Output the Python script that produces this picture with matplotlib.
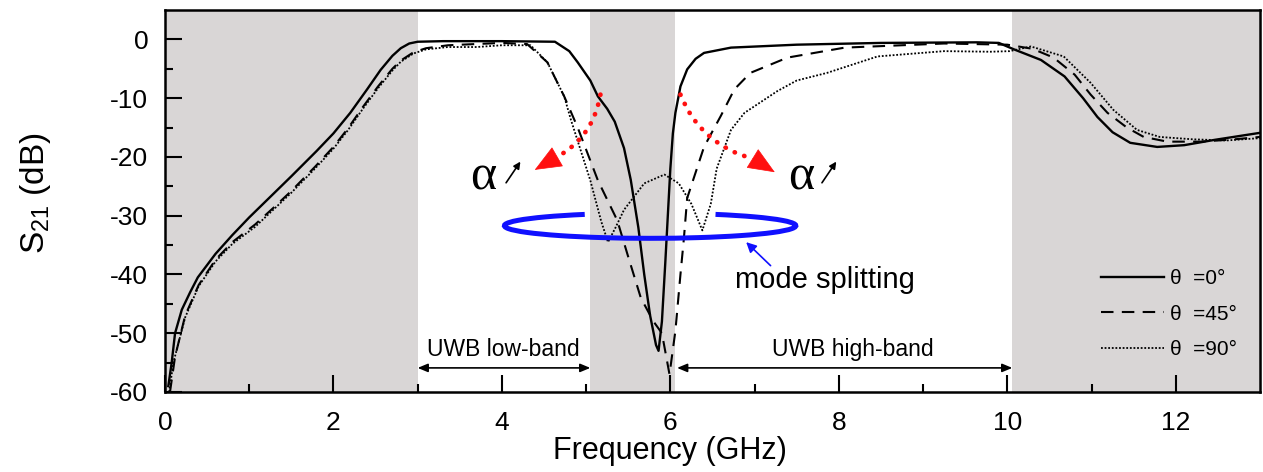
import matplotlib
matplotlib.use("Agg")
import matplotlib.pyplot as plt
from matplotlib.patches import Arc

plt.rcParams['font.family'] = ['Liberation Sans', 'DejaVu Sans']
plt.rcParams['axes.unicode_minus'] = False

# -----------------------------
# Data
# -----------------------------
# theta = 0 deg (solid)
f0 = [0.04, 0.08, 0.12, 0.2, 0.3, 0.39, 0.6, 0.8, 1.0, 1.2, 1.5, 1.8, 2.0, 2.2, 2.4,
      2.56, 2.7, 2.8, 2.9, 3.0, 3.3, 4.0, 4.63, 4.8, 4.9, 5.05, 5.14, 5.25, 5.34, 5.45,
      5.53, 5.62, 5.69, 5.76, 5.83, 5.86, 5.9, 5.94, 5.97, 6.0, 6.03, 6.06, 6.12, 6.2,
      6.3, 6.4, 6.72, 7.5, 8.5, 9.64, 9.9, 10.08, 10.4, 10.68, 10.9, 11.07, 11.25, 11.46,
      11.78, 12.1, 12.46, 13.0]
s0 = [-59, -55, -50, -46, -43, -40.5, -36.5, -33.3, -30.3, -27.5, -23.3, -19, -16, -12.5,
      -8.5, -5.2, -2.8, -1.5, -0.7, -0.4, -0.3, -0.3, -0.4, -2, -3.9, -7, -9.7, -11.8,
      -14, -18.5, -23.9, -32, -40, -47, -52, -53, -48, -38, -30, -22, -16, -12.5, -8,
      -5.1, -3.3, -2.3, -1.4, -0.9, -0.6, -0.5, -0.6, -1.7, -3.5, -6.3, -10, -13.2,
      -15.8, -17.6, -18.3, -18.0, -17.1, -15.9]

# theta = 45 deg (dashed)
f45 = [0.06, 0.12, 0.24, 0.4, 0.6, 0.8, 1.07, 1.3, 1.5, 1.78, 2.0, 2.17, 2.35, 2.53, 2.7,
       2.8, 2.95, 3.1, 3.36, 4.0, 4.3, 4.54, 4.74, 4.9, 5.14, 5.37, 5.5, 5.65, 5.8, 5.9,
       5.99, 6.06, 6.12, 6.16, 6.2, 6.4, 6.6, 6.76, 6.95, 7.39, 8.07, 9.25, 10.0, 10.3,
       10.55, 10.8, 10.99, 11.19, 11.42, 11.62, 11.9, 12.3, 12.7, 13.0]
s45 = [-60, -54, -47, -41.8, -37.5, -34.5, -31.5, -28.5, -25.8, -21.7, -18.3, -15.2,
       -11.5, -8, -5, -3.6, -2.2, -1.5, -1.0, -0.6, -0.8, -3.9, -9.7, -15, -24, -30.8,
       -37, -44, -48, -50, -57, -49.6, -40, -34, -27, -18.3, -13, -8.5, -5.7, -3.1,
       -1.4, -0.7, -0.9, -1.6, -3.1, -6, -9.4, -12.5, -15, -16.6, -17.4, -17.4, -17,
       -16.6]

# theta = 90 deg (dotted)
f90 = [0.05, 0.1, 0.24, 0.4, 0.6, 0.8, 1.07, 1.3, 1.5, 1.78, 2.0, 2.17, 2.35, 2.53, 2.7,
       2.8, 2.95, 3.1, 3.36, 3.7, 4.0, 4.34, 4.54, 4.74, 4.82, 5.05, 5.18, 5.26, 5.35,
       5.45, 5.69, 5.93, 6.1, 6.25, 6.38, 6.48, 6.55, 6.72, 6.88, 7.27, 7.5, 7.86, 8.46,
       9.25, 9.8, 10.03, 10.28, 10.67, 10.99, 11.26, 11.54, 11.81, 12.2, 12.6, 13.0]
s90 = [-60, -55, -47.3, -42, -37.8, -34.8, -31.9, -28.8, -26.1, -22, -18.6, -15.5,
       -11.8, -8.3, -5.3, -3.8, -2.4, -1.7, -1.3, -1.3, -1.0, -1.0, -3.9, -9.7, -13.7,
       -24, -31, -34.5, -32, -29, -24.5, -23, -24.5, -28, -32.5, -28, -22, -15.4, -12.5,
       -8.8, -7, -5.7, -2.9, -2, -2.1, -2.0, -1.2, -2.9, -7.4, -12, -15.4, -16.6, -17,
       -17.2, -16.8]

# shaded (rejected) regions, GHz
shade_spans = [(0, 3.0), (5.05, 6.06), (10.06, 13.0)]

xticks = [0, 2, 4, 6, 8, 10, 12]
yticks = [0, -10, -20, -30, -40, -50, -60]

# -----------------------------
# Plot
# -----------------------------
fig = plt.figure(figsize=(12.63, 4.72), dpi=100)
ax = fig.add_axes([0.1306, 0.1695, 0.867, 0.8093])

for a, b in shade_spans:
    ax.axvspan(a, b, color='#d9d6d6', lw=0, zorder=0)

ax.plot(f0, s0, color='black', lw=1.7, label='\u03b8  =0\u00b0', zorder=3)
ax.plot(f45, s45, color='black', lw=1.5, dashes=(6, 4), label='\u03b8  =45\u00b0', zorder=3)
ax.plot(f90, s90, color='black', lw=1.3, linestyle=(0, (1, 1)), label='\u03b8  =90\u00b0', zorder=3)

ax.set_xlim(0, 13)
ax.set_ylim(-60, 5)
ax.set_xticks(xticks)
ax.set_yticks(yticks)
ax.set_xticks(range(1, 13, 2), minor=True)
ax.set_yticks([-5, -15, -25, -35, -45, -55], minor=True)
ax.tick_params(which='both', direction='in', top=False, right=False, width=1.5, labelsize=19)
ax.tick_params(axis='x', which='major', length=12, pad=14)
ax.tick_params(axis='y', which='major', length=12, pad=12)
ax.tick_params(which='minor', length=6)
for sp in ax.spines.values():
    sp.set_linewidth(1.8)

ax.set_xlabel('Frequency (GHz)', fontsize=22)
ax.xaxis.set_label_coords(6 / 13, -0.116)
ax.set_ylabel(r'S$_{\mathregular{21}}$ (dB)', fontsize=24)
ax.yaxis.set_label_coords(-0.102, 0.52)

# red dotted curved arrows: dotted body + solid head
dot_kw = dict(arrowstyle='-', color='#ff1010', lw=3.4, linestyle=(0, (0.05, 2.1)),
              capstyle='round', shrinkA=0, shrinkB=0)
head_kw = dict(arrowstyle='-|>,head_length=1.8,head_width=0.75', color='#ff1010', lw=0.5,
               mutation_scale=10, shrinkA=0, shrinkB=0)
ax.annotate('', xy=(4.62, -20.3), xytext=(5.17, -9.4),
            arrowprops=dict(connectionstyle='arc3,rad=-0.25', **dot_kw), zorder=4)
ax.annotate('', xy=(4.39, -22.2), xytext=(4.62, -20.3), arrowprops=head_kw, zorder=4)
ax.annotate('', xy=(6.98, -20.3), xytext=(6.12, -9.4),
            arrowprops=dict(connectionstyle='arc3,rad=0.25', **dot_kw), zorder=4)
ax.annotate('', xy=(7.24, -22.6), xytext=(6.98, -20.3), arrowprops=head_kw, zorder=4)

# alpha labels with small arrows
for xa, xs in [(3.78, 4.05), (7.55, 7.8)]:
    ax.text(xa, -23.4, '\u03b1', fontsize=36, family=['Liberation Serif', 'DejaVu Serif'],
            ha='center', va='center', zorder=5)
    ax.annotate('', xy=(xs + 0.17, -20.8), xytext=(xs, -24.4),
                arrowprops=dict(arrowstyle='-|>,head_length=0.4,head_width=0.2',
                                color='black', lw=1.2, shrinkA=0, shrinkB=0))

# blue open ellipse (mode splitting)
ax.add_patch(Arc((5.76, -31.7), 3.46, 4.3, theta1=112, theta2=428,
                 color='#1010ff', lw=3.6, zorder=6))
ax.annotate('', xy=(6.9, -34.5), xytext=(7.19, -38.5),
            arrowprops=dict(arrowstyle='-|>,head_length=0.6,head_width=0.3',
                            color='#1010ff', lw=1.2, shrinkA=0, shrinkB=0), zorder=6)
ax.text(6.77, -41, 'mode splitting', fontsize=21, ha='left', va='center', zorder=6)

# UWB band markers
ax.annotate('', xy=(3.0, -55.9), xytext=(5.05, -55.9),
            arrowprops=dict(arrowstyle='<|-|>,head_length=0.6,head_width=0.25',
                            color='black', lw=1.2, shrinkA=0, shrinkB=0))
ax.text(4.02, -52.8, 'UWB low-band', fontsize=16.5, ha='center', va='center')
ax.annotate('', xy=(6.08, -55.9), xytext=(10.06, -55.9),
            arrowprops=dict(arrowstyle='<|-|>,head_length=0.6,head_width=0.25',
                            color='black', lw=1.2, shrinkA=0, shrinkB=0))
ax.text(8.17, -52.8, 'UWB high-band', fontsize=16.5, ha='center', va='center')

ax.legend(loc='upper left', bbox_to_anchor=(0.855, 0.322), frameon=False, fontsize=15,
          handlelength=3.0, handletextpad=0.3, labelspacing=0.8, borderpad=0,
          borderaxespad=0)

fig.savefig('out.png', dpi=100)
